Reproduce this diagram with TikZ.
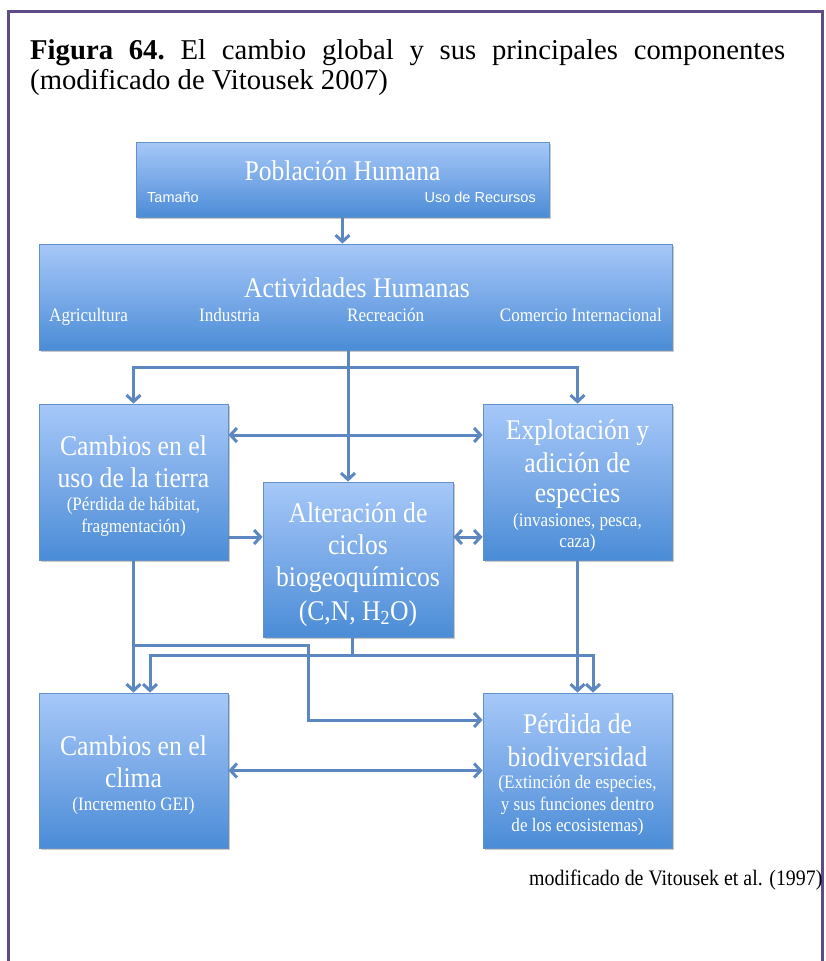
\documentclass[tikz,border=0pt]{standalone}
\usepackage{fontspec}
\setmainfont{Liberation Serif}
\newfontfamily\boxf[FakeStretch=0.9]{Liberation Serif}
\newfontfamily\titf{Liberation Serif}
\newfontfamily\sansf{Liberation Sans}
\usetikzlibrary{arrows.meta,shadows}
\definecolor{arrc}{RGB}{92,135,193}
\definecolor{frm}{RGB}{95,75,135}
\definecolor{btop}{RGB}{166,200,248}
\definecolor{bmid}{RGB}{122,170,232}
\definecolor{bbot}{RGB}{74,140,214}
\definecolor{bdr}{RGB}{100,145,200}
\tikzset{
  box/.style={draw=bdr, line width=0.8pt, top color=btop, bottom color=bbot, middle color=bmid,
    drop shadow={shadow xshift=1.5pt, shadow yshift=-2pt, opacity=0.3, fill=black!70},
    inner sep=0pt},
  bt/.style={text=white, font=\boxf\fontsize{28.5}{30}\selectfont, anchor=base, inner sep=0pt},
  st/.style={text=white, font=\boxf\fontsize{19}{22}\selectfont, anchor=base, inner sep=0pt},
  sst/.style={text=white, font=\sansf\fontsize{14.5}{17}\selectfont, anchor=base, inner sep=0pt},
  ln/.style={draw=arrc, line width=3pt},
  arr/.style={ln, -{Straight Barb[length=6.5pt,width=14pt]}},
  arrb/.style={ln, {Straight Barb[length=6.5pt,width=14pt]}-{Straight Barb[length=6.5pt,width=14pt]}}
}
\begin{document}
\begin{tikzpicture}[x=1pt,y=-1pt]
\useasboundingbox (0,0) rectangle (825,961);
\fill[white] (0,0) rectangle (825,961);
% frame
\draw[frm, line width=3pt] (8.5,961) -- (8.5,11.5) -- (822,11.5) -- (822,961);
% title
\node[anchor=base west, inner sep=0pt] (tl1) at (30,59)
  {\titf\fontsize{28.7}{32}\selectfont\hbox to 755pt{\bfseries Figura 64.\mdseries\ El cambio global y sus principales componentes}};
\node[anchor=base west, inner sep=0pt] (tl2) at (30,89)
  {\titf\fontsize{28.7}{32}\selectfont (modificado de Vitousek 2007)};
% boxes
\node[box, minimum width=413pt, minimum height=75pt] (pob) at (342.5,179.5) {};
\node[box, minimum width=633pt, minimum height=106pt] (act) at (355.5,297) {};
\node[box, minimum width=189pt, minimum height=156pt] (uso) at (133.5,482) {};
\node[box, minimum width=189pt, minimum height=156pt] (exp) at (577.5,482) {};
\node[box, minimum width=190pt, minimum height=155pt] (alt) at (358,559.5) {};
\node[box, minimum width=189pt, minimum height=155pt] (cli) at (133.5,770.5) {};
\node[box, minimum width=189pt, minimum height=155pt] (per) at (577.5,770.5) {};
% texts
\node[bt] (pobt) at (342.5,180) {Población Humana};
\node[sst, anchor=base west] (pobs1) at (147,202) {Tamaño};
\node[sst, anchor=base east] (pobs2) at (536,202) {Uso de Recursos};
\node[bt] (actt) at (357,297) {Actividades Humanas};
\node[st, anchor=base west] (acts1) at (49,321) {Agricultura};
\node[st, anchor=base west] (acts2) at (199,321) {Industria};
\node[st, anchor=base west] (acts3) at (347,321) {Recreación};
\node[st, anchor=base east] (acts4) at (662,321) {Comercio Internacional};
\node[bt] (uso1) at (133.5,455) {Cambios en el};
\node[bt] (uso2) at (133.5,487) {uso de la tierra};
\node[st] (uso3) at (133.5,510) {(Pérdida de hábitat,};
\node[st] (uso4) at (133.5,532) {fragmentación)};
\node[bt] (exp1) at (577.5,439) {Explotación y};
\node[bt] (exp2) at (577.5,472) {adición de};
\node[bt] (exp3) at (577.5,502) {especies};
\node[st] (exp4) at (577.5,526) {(invasiones, pesca,};
\node[st] (exp5) at (577.5,547) {caza)};
\node[bt] (alt1) at (358,522) {Alteración de};
\node[bt] (alt2) at (358,554) {ciclos};
\node[bt] (alt3) at (358,586) {biogeoquímicos};
\node[bt] (alt4) at (358,620) {(C,N, H\textsubscript{2}O)};
\node[bt] (cli1) at (133.5,755) {Cambios en el};
\node[bt] (cli2) at (133.5,787) {clima};
\node[st] (cli3) at (133.5,810) {(Incremento GEI)};
\node[bt] (per1) at (577.5,733) {Pérdida de};
\node[bt] (per2) at (577.5,766) {biodiversidad};
\node[st] (per3) at (577.5,788) {(Extinción de especies,};
\node[st] (per4) at (577.5,810) {y sus funciones dentro};
\node[st] (per5) at (577.5,831) {de los ecosistemas)};
% caption
\node[anchor=base west, inner sep=0pt, font=\boxf\fontsize{22.1}{25}\selectfont] (cap) at (529,885)
  {modificado de Vitousek et al. (1997)};
% connector coordinates
\coordinate (j1) at (348,367);
\coordinate (h1) at (0,435);
\coordinate (h2) at (0,537);
\coordinate (k1) at (133.5,645);
\coordinate (k2) at (308,720);
\coordinate (m) at (352,655);
\coordinate (c1) at (150,0);
\coordinate (c2) at (593,0);
% connectors
\draw[arr] (pob.south) -- (pob.south |- act.north);
\draw[ln] (j1 |- act.south) -- (j1);
\draw[arr] (j1) -| (uso.north);
\draw[arr] (j1) -| (exp.north);
\draw[arr] (j1) -- (j1 |- alt.north);
\draw[arrb] (uso.east |- h1) -- (exp.west |- h1);
\draw[arr] (uso.east |- h2) -- (alt.west |- h2);
\draw[arrb] (alt.east |- h2) -- (exp.west |- h2);
\draw[arr] (uso.south) -- (cli.north);
\draw[arr] (k1) -| (k2) -- (per.west |- k2);
\draw[ln] (m |- alt.south) -- (m);
\draw[arr] (m) -| (c1 |- cli.north);
\draw[arr] (m) -| (c2 |- per.north);
\draw[arr] (exp.south) -- (per.north);
\draw[arrb] (cli.east) -- (per.west);
\end{tikzpicture}
\end{document}
